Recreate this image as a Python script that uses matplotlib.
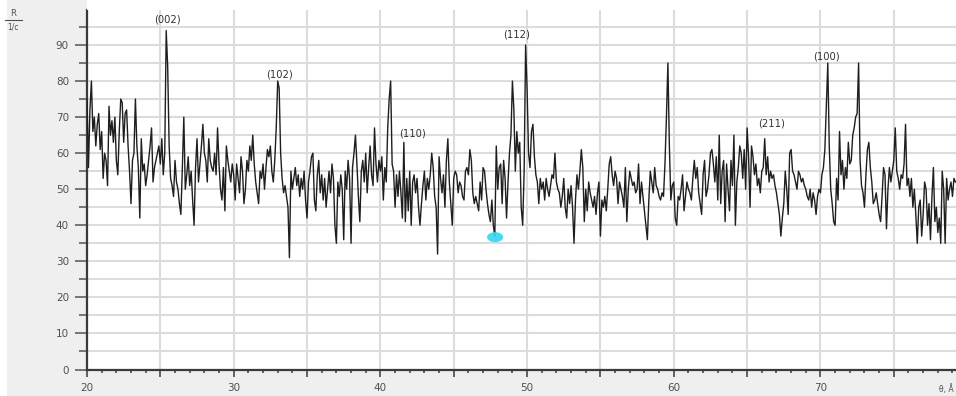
import matplotlib
matplotlib.use("Agg")
import matplotlib.pyplot as plt
from matplotlib.patches import Ellipse, Rectangle
from matplotlib.ticker import MultipleLocator, FuncFormatter
import numpy as np

# 2-theta sampling of the scan
TT_START, TT_STEP = 20.0, 0.1

# intensity, one list per 10 degrees
seg20 = [75, 56, 72, 80, 66, 70, 62, 68, 71, 61,
         66, 53, 60, 58, 51, 73, 65, 69, 63, 70,
         58, 54, 66, 75, 74, 63, 71, 72, 62, 55,
         46, 58, 60, 75, 62, 56, 42, 64, 55, 57,
         51, 54, 58, 62, 67, 52, 56, 58, 60, 62,
         57, 64, 54, 60, 94, 84, 62, 53, 51, 48,
         58, 52, 50, 46, 43, 56, 70, 50, 54, 59,
         51, 55, 47, 40, 56, 64, 52, 57, 62, 68,
         60, 58, 52, 64, 58, 56, 55, 60, 54, 67,
         57, 50, 47, 56, 44, 62, 58, 55, 52, 57]
seg30 = [54, 47, 57, 53, 49, 59, 55, 46, 50, 58,
         55, 62, 58, 65, 57, 52, 49, 46, 55, 53,
         57, 50, 56, 61, 59, 62, 55, 52, 58, 67,
         80, 78, 60, 53, 49, 51, 48, 45, 31, 55,
         50, 53, 56, 51, 54, 48, 53, 50, 55, 47,
         42, 52, 55, 59, 60, 47, 44, 54, 58, 49,
         54, 47, 53, 45, 50, 55, 49, 57, 53, 40,
         35, 52, 48, 54, 50, 36, 55, 50, 58, 53,
         35, 56, 60, 65, 57, 48, 41, 55, 58, 52,
         60, 49, 56, 62, 54, 51, 67, 57, 52, 58]
seg40 = [55, 59, 47, 56, 52, 67, 75, 80, 57, 55,
         45, 54, 48, 55, 49, 42, 63, 41, 53, 44,
         55, 40, 52, 54, 49, 53, 45, 40, 46, 51,
         55, 47, 53, 50, 54, 60, 56, 48, 45, 32,
         59, 53, 49, 54, 45, 58, 64, 52, 46, 40,
         53, 55, 54, 49, 52, 51, 48, 47, 55, 56,
         54, 61, 58, 49, 46, 48, 46, 44, 52, 47,
         56, 55, 50, 46, 43, 41, 47, 40, 37, 62,
         50, 56, 57, 46, 58, 53, 42, 52, 60, 65,
         80, 72, 55, 66, 60, 63, 45, 40, 55, 90]
seg50 = [78, 60, 56, 66, 68, 59, 54, 52, 46, 53,
         50, 52, 47, 53, 50, 48, 51, 54, 53, 60,
         52, 50, 49, 45, 48, 53, 45, 42, 50, 46,
         51, 45, 35, 47, 54, 50, 55, 61, 56, 41,
         50, 44, 52, 49, 47, 45, 48, 43, 49, 52,
         37, 47, 45, 48, 44, 50, 57, 59, 54, 51,
         55, 53, 46, 52, 50, 48, 45, 56, 41, 50,
         55, 53, 51, 52, 49, 50, 57, 46, 52, 48,
         44, 40, 36, 47, 55, 52, 49, 56, 51, 50,
         48, 47, 49, 48, 57, 70, 85, 62, 47, 51]
seg60 = [52, 42, 40, 48, 47, 50, 54, 44, 48, 52,
         50, 49, 47, 53, 58, 53, 56, 49, 46, 43,
         54, 58, 48, 50, 54, 60, 61, 57, 52, 59,
         47, 65, 46, 55, 58, 41, 57, 50, 44, 58,
         51, 65, 40, 52, 56, 62, 60, 53, 61, 50,
         67, 59, 45, 62, 59, 54, 57, 51, 53, 49,
         55, 56, 64, 54, 59, 52, 55, 53, 54, 51,
         49, 46, 43, 37, 42, 46, 55, 50, 43, 60,
         61, 55, 54, 52, 50, 55, 54, 52, 53, 51,
         50, 48, 47, 50, 45, 49, 47, 43, 48, 50]
seg70 = [49, 54, 56, 61, 73, 85, 62, 50, 46, 41,
         40, 53, 47, 66, 54, 58, 50, 56, 53, 63,
         57, 58, 65, 67, 70, 71, 85, 58, 51, 49,
         45, 54, 61, 63, 56, 52, 46, 47, 49, 46,
         43, 41, 48, 56, 54, 39, 50, 56, 52, 55,
         58, 67, 55, 53, 50, 54, 53, 57, 68, 51,
         53, 48, 53, 45, 50, 43, 35, 45, 47, 37,
         43, 52, 50, 40, 46, 36, 48, 56, 41, 45,
         38, 42, 35, 55, 50, 35, 53, 47, 50, 52,
         48, 53, 52]

# Miller-index labels and where they sit
peak_labels = ["(002)", "(102)", "(110)", "(112)", "(211)", "(100)"]
peak_lab_x = [25.5, 33.1, 42.2, 49.3, 66.7, 70.4]
peak_lab_y = [97.0, 81.7, 65.5, 92.8, 68.3, 86.7]

# cyan highlight spot
spot_x, spot_y = 47.82, 36.7

intensity = np.array(seg20 + seg30 + seg40 + seg50 + seg60 + seg70, dtype=float)
two_theta = TT_START + TT_STEP * np.arange(len(intensity))

BG = "#efefef"
GRID = "#dcdcdc"
AX = "#3a3a3a"
TXT = "#505050"

fig = plt.figure(figsize=(9.56, 3.96), dpi=100, facecolor=BG)
# white strip on the far left and white band above the plot area
fig.patches.append(Rectangle((0, 0), 7 / 956, 1, transform=fig.transFigure,
                             fc="white", ec="none", zorder=0))
fig.patches.append(Rectangle((87 / 956, 1 - 10 / 396), 1, 10 / 396, transform=fig.transFigure,
                             fc="white", ec="none", zorder=0))
ax = fig.add_axes([87 / 956, 26.5 / 396, 1 - 87 / 956, 359.5 / 396])
ax.set_facecolor("white")

ax.plot(two_theta, intensity, color="#1e1e1e", lw=1.0, zorder=3)
ax.add_patch(Ellipse((spot_x, spot_y), 1.1, 2.8, fc="#33d6f2", ec="none",
                     alpha=0.9, zorder=4))

for lab, lx, ly in zip(peak_labels, peak_lab_x, peak_lab_y):
    ax.text(lx, ly, lab, ha="center", va="center", fontsize=7.2,
            color="#333333", zorder=5)

ax.set_xlim(20, 79.24)
ax.set_ylim(0, 99.7)

ax.xaxis.set_major_locator(MultipleLocator(5))
ax.xaxis.set_minor_locator(MultipleLocator(1))
ax.xaxis.set_major_formatter(FuncFormatter(lambda v, p: f"{v:.0f}" if v % 10 == 0 else ""))
ax.yaxis.set_major_locator(MultipleLocator(10))
ax.yaxis.set_minor_locator(MultipleLocator(5))

ax.grid(True, axis="x", which="major", color=GRID, lw=1.5, zorder=0)
ax.grid(True, axis="y", which="both", color=GRID, lw=1.5, zorder=0)
ax.set_axisbelow(True)

for s in ["top", "right"]:
    ax.spines[s].set_visible(False)
for s in ["left", "bottom"]:
    ax.spines[s].set_color(AX)
    ax.spines[s].set_linewidth(1.6)

ax.tick_params(axis="y", which="major", length=9, width=1.1, color="#555555",
               labelsize=7.5, labelcolor=TXT, pad=4)
ax.tick_params(axis="y", which="minor", length=6, width=1.1, color="#555555")
ax.tick_params(axis="x", which="major", length=5, width=1.1, color=AX,
               labelsize=7.5, labelcolor=TXT, pad=5)
ax.tick_params(axis="x", which="minor", length=2, width=1.1, color=AX)

# axis captions, as in the original instrument plot
fig.text(13 / 956, 1 - 13 / 396, "R", ha="center", va="center", fontsize=6, color=TXT)
fig.add_artist(plt.Line2D([5 / 956, 22 / 956], [1 - 20 / 396, 1 - 20 / 396],
                          color=TXT, lw=0.8))
fig.text(13 / 956, 1 - 27 / 396, "1/c", ha="center", va="center", fontsize=5.5, color=TXT)
fig.text(954 / 956, 1 - 389 / 396, "θ, Å", ha="right", va="center", fontsize=5.5, color=TXT)

fig.savefig("out.png", dpi=100, facecolor=BG)
